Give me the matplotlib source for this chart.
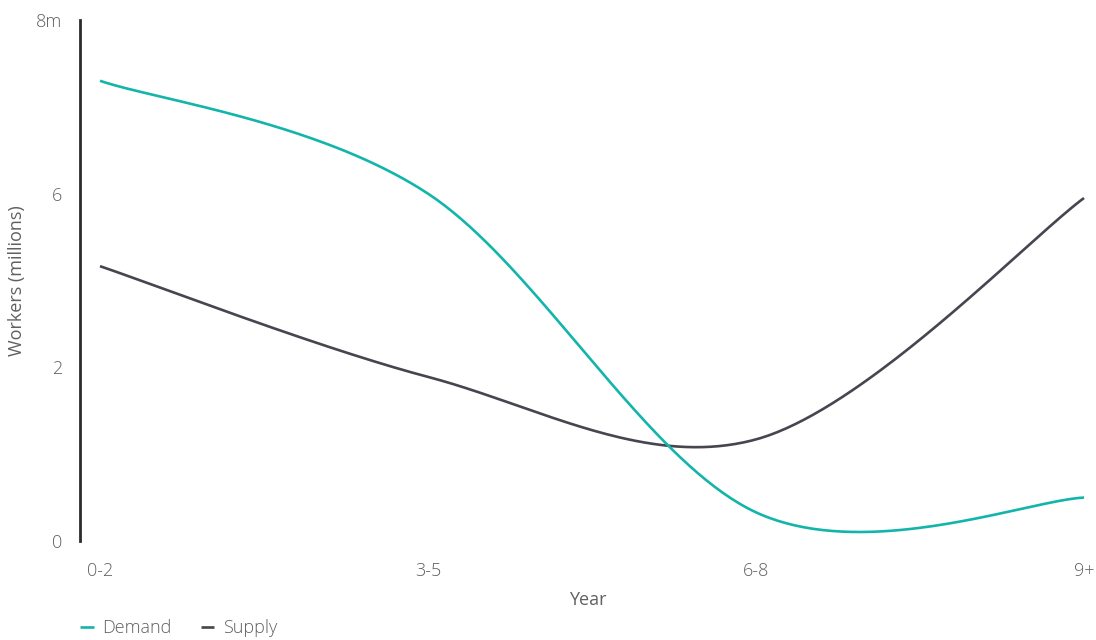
import numpy as np
import matplotlib
matplotlib.use("Agg")
import matplotlib.pyplot as plt

plt.rcParams['font.family'] = ['Open Sans', 'DejaVu Sans']
plt.rcParams['font.weight'] = 'light'

years = ['0-2', '3-5', '6-8', '9+']
demand = [7.3, 6.0, 0.33, 0.5]
supply = [4.33, 1.89, 1.17, 5.9]
y_ticks = [0, 2, 6, 8]
y_labels = ['0', '2', '6', '8m']

teal = '#13b5ab'
dark = '#45464f'
grey = '#606060'

# y axis puts its four ticks evenly apart, so the scale is piecewise linear
tick_pos = [0, 1, 2, 3]
fwd = lambda v: np.interp(v, y_ticks, tick_pos)
inv = lambda v: np.interp(v, tick_pos, y_ticks)


def cardinal(xs, ys, n=80):
    # catmull-rom style bezier through the points (like d3.curveCardinal)
    xs = np.asarray(xs, float)
    ys = np.asarray(ys, float)
    px = np.concatenate([[xs[0]], xs, [xs[-1]]])
    py = np.concatenate([[ys[0]], ys, [ys[-1]]])
    t = np.linspace(0, 1, n)
    ox, oy = [], []
    for i in range(1, len(px) - 2):
        x0, y0 = px[i], py[i]
        x3, y3 = px[i + 1], py[i + 1]
        x1 = x0 + (px[i + 1] - px[i - 1]) / 6
        y1 = y0 + (py[i + 1] - py[i - 1]) / 6
        x2 = x3 - (px[i + 2] - px[i]) / 6
        y2 = y3 - (py[i + 2] - py[i]) / 6
        b = [(1 - t) ** 3, 3 * (1 - t) ** 2 * t, 3 * (1 - t) * t ** 2, t ** 3]
        ox.append(b[0] * x0 + b[1] * x1 + b[2] * x2 + b[3] * x3)
        oy.append(b[0] * y0 + b[1] * y1 + b[2] * y2 + b[3] * y3)
    return np.concatenate(ox), np.concatenate(oy)


fig = plt.figure(figsize=(10.96, 6.4), dpi=100)
ax = fig.add_axes([80 / 1096, 1 - 541 / 640, 1016 / 1096, 521 / 640])
ax.set_yscale('function', functions=(fwd, inv))

x = np.arange(len(years))
dx, dy = cardinal(x, fwd(demand))
sx, sy = cardinal(x, fwd(supply))
ax.plot(sx, inv(sy), color=dark, lw=1.9, label='Supply', solid_capstyle='butt')
ax.plot(dx, inv(dy), color=teal, lw=1.9, label='Demand', solid_capstyle='butt')

ax.set_xlim(-20 / 328, 996 / 328)
ax.set_ylim(0, 8)
ax.set_xticks(x)
ax.set_xticklabels(years)
ax.set_yticks(y_ticks)
ax.set_yticklabels(y_labels)
ax.tick_params(length=0, labelsize=13, colors=grey)
ax.tick_params(axis='y', pad=13)
ax.tick_params(axis='x', pad=15)

for s in ['top', 'right', 'bottom']:
    ax.spines[s].set_visible(False)
ax.spines['left'].set_color('#2b2b2b')
ax.spines['left'].set_linewidth(2)

ax.set_xlabel('Year', fontsize=13, color=grey, labelpad=8)
ax.set_ylabel('Workers (millions)', fontsize=13, color=grey)
ax.yaxis.set_label_coords(-54 / 1016, 0.5)

h, l = ax.get_legend_handles_labels()
fig.legend(h[::-1], l[::-1], loc='lower left', bbox_to_anchor=(80 / 1096, 0.004),
           ncol=2, frameon=False, fontsize=13, labelcolor=grey,
           borderpad=0, borderaxespad=0,
           handlelength=0.75, handletextpad=0.5, columnspacing=1.6)

fig.savefig('out.png', dpi=100)
